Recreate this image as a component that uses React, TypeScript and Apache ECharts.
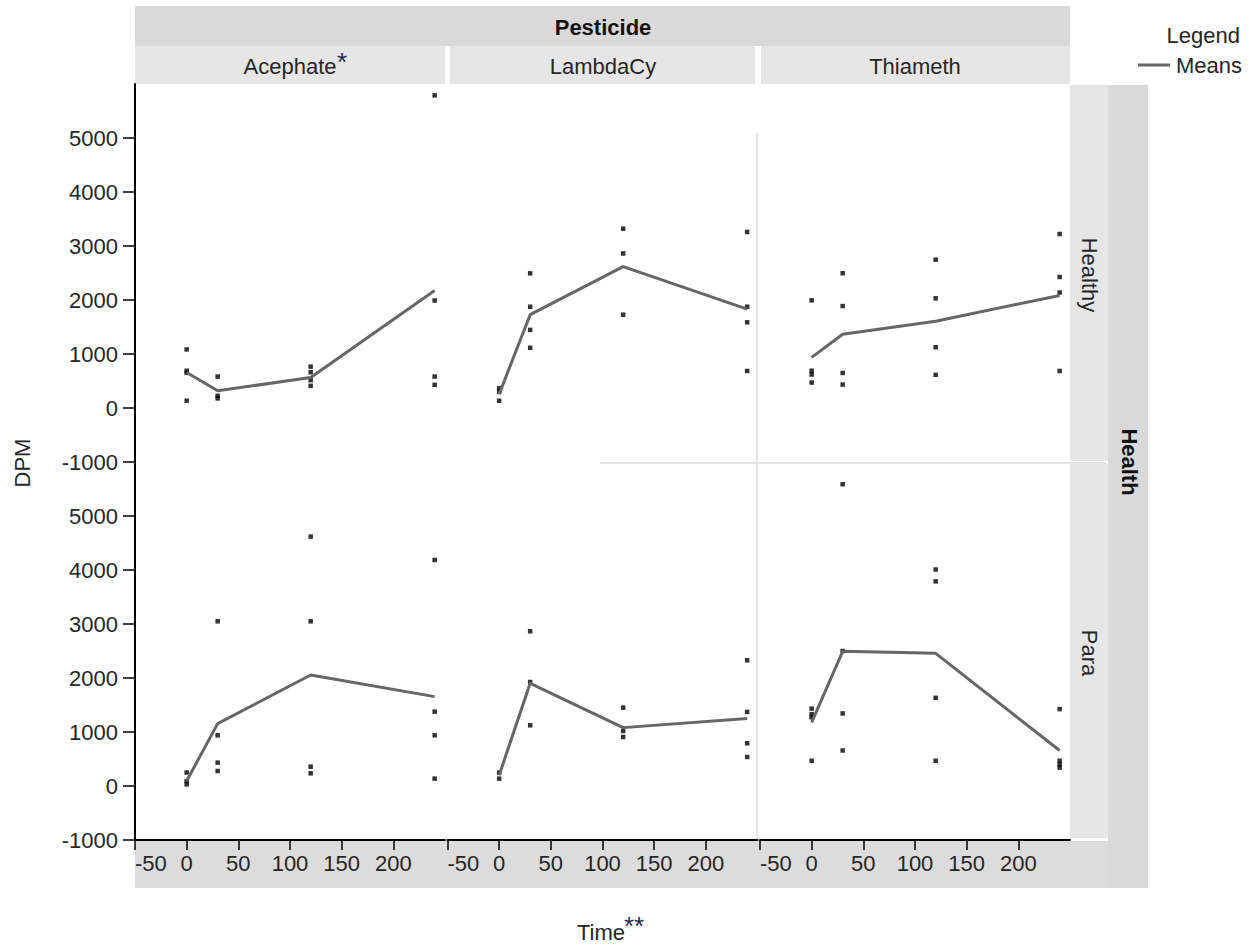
import React, { useEffect, useRef } from "react";
import * as echarts from "echarts";

// ---- Data ----
const times = [0, 30, 120, 240];
const pesticides = ["Acephate", "LambdaCy", "Thiameth"];
const healthLevels = ["Healthy", "Para"];
const xTicks = [-50, 0, 50, 100, 150, 200];
const yTicks = [-1000, 0, 1000, 2000, 3000, 4000, 5000];

// individual observations, one list per time point
const acephateHealthy = [[1085, 690, 650, 135], [582, 226, 178], [766, 662, 515, 410], [5790, 1991, 582, 429]];
const lambdaCyHealthy = [[368, 300, 135], [2494, 1875, 1446, 1115], [3321, 2862, 1728], [3260, 1875, 1587, 686]];
const thiamethHealthy = [[1994, 690, 620, 471], [2496, 1888, 649, 434], [2748, 2031, 1125, 614], [3222, 2426, 2138, 686]];
const acephatePara = [[250, 90, 30], [3050, 939, 433, 278], [4618, 3050, 358, 235], [4186, 1377, 939, 136]];
const lambdaCyPara = [[248, 136], [2865, 1926, 1124], [1451, 1019, 908], [2328, 1371, 791, 538]];
const thiamethPara = [[1433, 1330, 1272, 467], [5589, 2500, 1344, 657], [4009, 3790, 1633, 467], [1424, 467, 400, 341]];

// means (the "Means" lines)
const acephateHealthyMeans = [656, 318, 564, 2175];
const lambdaCyHealthyMeans = [257, 1728, 2617, 1832];
const thiamethHealthyMeans = [937, 1367, 1608, 2085];
const acephateParaMeans = [93, 1155, 2056, 1655];
const lambdaCyParaMeans = [200, 1901, 1081, 1248];
const thiamethParaMeans = [1180, 2494, 2457, 657];

const obs = [
  [acephateHealthy, lambdaCyHealthy, thiamethHealthy],
  [acephatePara, lambdaCyPara, thiamethPara],
];
const means = [
  [acephateHealthyMeans, lambdaCyHealthyMeans, thiamethHealthyMeans],
  [acephateParaMeans, lambdaCyParaMeans, thiamethParaMeans],
];

const FONT = "'Liberation Sans', Arial, Helvetica, sans-serif";
const TXT = "#262626";

export default function App() {
  const ref = useRef<HTMLDivElement>(null);

  useEffect(() => {
    if (!ref.current) return;
    const chart = echarts.init(ref.current, undefined, { renderer: "svg" });

    const colLeft = [135, 447.5, 760];
    const colW = 310;
    const rowTop = [84, 462];
    const rowH = 378;

    const grids: any[] = [];
    const xAxes: any[] = [];
    const yAxes: any[] = [];
    const series: any[] = [];

    let gi = 0;
    for (let r = 0; r < healthLevels.length; r++) {
      for (let c = 0; c < pesticides.length; c++) {
        grids.push({ left: colLeft[c], top: rowTop[r], width: colW, height: rowH, containLabel: false });
        const bottom = r === healthLevels.length - 1;
        xAxes.push({
          type: "value",
          gridIndex: gi,
          min: xTicks[0],
          max: 250,
          interval: 50,
          axisLine: { show: bottom, onZero: false, lineStyle: { color: "#000", width: 2 } },
          axisTick: { show: bottom, length: 10, lineStyle: { color: "#000", width: 1.5 } },
          axisLabel: {
            show: bottom,
            showMaxLabel: false,
            alignMinLabel: "left",
            fontSize: 22,
            fontFamily: FONT,
            color: TXT,
            margin: 12,
            formatter: (v: number) => String(v),
          },
          splitLine: { show: false },
        });
        const left = c === 0;
        yAxes.push({
          type: "value",
          gridIndex: gi,
          min: yTicks[0],
          max: 6000,
          interval: 1000,
          axisLine: { show: left, onZero: false, lineStyle: { color: "#000", width: 2 } },
          axisTick: { show: left, length: 12, lineStyle: { color: "#000", width: 1.5 } },
          axisLabel: {
            show: left,
            showMaxLabel: false,
            fontSize: 22,
            fontFamily: FONT,
            color: TXT,
            margin: 17,
            formatter: (v: number) => String(v),
          },
          splitLine: { show: false },
        });
        const pts: number[][] = [];
        obs[r][c].forEach((vals, ti) => vals.forEach((v) => pts.push([times[ti], v])));
        series.push({
          type: "scatter",
          xAxisIndex: gi,
          yAxisIndex: gi,
          data: pts,
          symbol: "rect",
          symbolSize: 4.5,
          itemStyle: { color: "#000" },
          z: 3,
        });
        series.push({
          type: "line",
          name: "Means",
          xAxisIndex: gi,
          yAxisIndex: gi,
          data: times.map((t, i) => [t, means[r][c][i]]),
          symbol: "none",
          lineStyle: { color: "#666", width: 3 },
          z: 4,
        });
        gi++;
      }
    }

    const textStyle = (text: string, extra: any = {}) => ({
      text,
      fontSize: 22,
      fontFamily: FONT,
      fill: TXT,
      textAlign: "center",
      textVerticalAlign: "middle",
      ...extra,
    });

    const graphic: any[] = [
      // top strips
      { type: "rect", shape: { x: 135, y: 6, width: 935, height: 40 }, style: { fill: "#d9d9d9" } },
      { type: "rect", shape: { x: 135, y: 46, width: 310, height: 38 }, style: { fill: "#e6e6e6" } },
      { type: "rect", shape: { x: 450, y: 46, width: 305, height: 38 }, style: { fill: "#e6e6e6" } },
      { type: "rect", shape: { x: 761, y: 46, width: 309, height: 38 }, style: { fill: "#e6e6e6" } },
      { type: "text", x: 603, y: 27, style: textStyle("Pesticide", { fontWeight: "bold", fill: "#111" }) },
      { type: "text", x: 290, y: 66, style: textStyle(pesticides[0]) },
      { type: "text", x: 337, y: 62, style: textStyle("*", { textAlign: "left", fontSize: 26, fill: "#1f2a55" }) },
      { type: "text", x: 603, y: 66, style: textStyle(pesticides[1]) },
      { type: "text", x: 915, y: 66, style: textStyle(pesticides[2]) },
      // right strips
      { type: "rect", shape: { x: 1070, y: 85, width: 38, height: 376 }, style: { fill: "#e6e6e6" } },
      { type: "rect", shape: { x: 1070, y: 464, width: 38, height: 374 }, style: { fill: "#e6e6e6" } },
      { type: "rect", shape: { x: 1108, y: 85, width: 40, height: 803 }, style: { fill: "#d9d9d9" } },
      { type: "text", x: 1089, y: 275, rotation: -Math.PI / 2, style: textStyle(healthLevels[0]) },
      { type: "text", x: 1089, y: 653, rotation: -Math.PI / 2, style: textStyle(healthLevels[1]) },
      { type: "text", x: 1129, y: 462, rotation: -Math.PI / 2, style: textStyle("Health", { fontWeight: "bold", fill: "#111" }) },
      // bottom band under x labels
      { type: "rect", shape: { x: 135, y: 841, width: 1013, height: 47 }, style: { fill: "#dcdcdc" }, z: -1 },
      // light separator lines
      { type: "line", shape: { x1: 757, y1: 133, x2: 757, y2: 840 }, style: { stroke: "#dddddd", lineWidth: 1.5 }, z: -1 },
      { type: "line", shape: { x1: 600, y1: 463, x2: 1107, y2: 463 }, style: { stroke: "#dddddd", lineWidth: 1.5 }, z: -1 },
      // axis titles
      { type: "text", x: 22, y: 463, rotation: Math.PI / 2, style: textStyle("DPM") },
      { type: "text", x: 601, y: 932, style: textStyle("Time") },
      { type: "text", x: 624, y: 926, style: textStyle("**", { textAlign: "left", fontSize: 26, fill: "#1f2a55" }) },
      // legend
      { type: "text", x: 1240, y: 35, style: textStyle("Legend", { textAlign: "right" }) },
      { type: "line", shape: { x1: 1138, y1: 65, x2: 1170, y2: 65 }, style: { stroke: "#666", lineWidth: 3 } },
      { type: "text", x: 1242, y: 65, style: textStyle("Means", { textAlign: "right" }) },
    ];

    chart.setOption({
      animation: false,
      backgroundColor: "#ffffff",
      grid: grids,
      xAxis: xAxes,
      yAxis: yAxes,
      series,
      graphic,
    });

    return () => chart.dispose();
  }, []);

  return (
    <div
      ref={ref}
      style={{ position: "fixed", left: 0, top: 0, width: 1253, height: 947, background: "#fff" }}
    />
  );
}
